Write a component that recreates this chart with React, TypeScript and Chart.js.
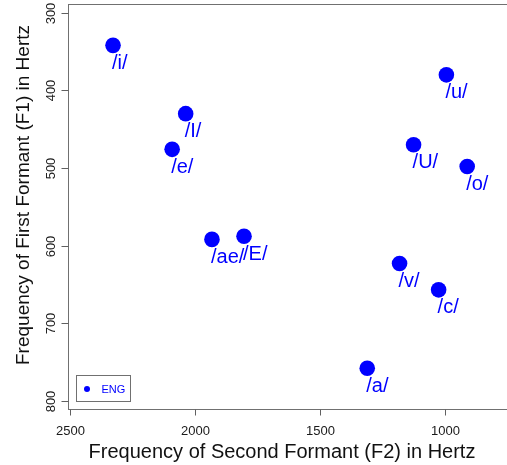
import React, { useEffect, useRef } from "react";
import { Chart, registerables } from "chart.js";

Chart.register(...registerables);

const vowelLabels = ["/i/", "/I/", "/e/", "/ae/", "/E/", "/u/", "/U/", "/o/", "/v/", "/c/", "/a/"];
const f2Values = [2327, 2037, 2091, 1932, 1804, 996, 1127, 913, 1183, 1027, 1312];
const f1Values = [342, 430, 476, 592, 588, 380, 470, 498, 623, 657, 758];
const xTickValues = [2500, 2000, 1500, 1000];
const yTickValues = [300, 400, 500, 600, 700, 800];
const legendLabel = "ENG";
const xTitle = "Frequency of Second Formant (F2) in Hertz";
const yTitle = "Frequency of First Formant (F1) in Hertz";

const FONT = '"Liberation Sans", Arial, Helvetica, sans-serif';
const BLUE = "#0000ff";

const customPlugin = {
  id: "rStyle",
  afterDraw(chart: any) {
    const ctx = chart.ctx as CanvasRenderingContext2D;
    const { left, right, top, bottom } = chart.chartArea;
    const xs = chart.scales.x;
    const ys = chart.scales.y;
    ctx.save();

    // point labels
    const meta = chart.getDatasetMeta(0);
    ctx.fillStyle = BLUE;
    ctx.font = `20px ${FONT}`;
    ctx.textAlign = "left";
    ctx.textBaseline = "alphabetic";
    meta.data.forEach((pt: any, i: number) => {
      ctx.fillText(vowelLabels[i], pt.x - 1, pt.y + 23.5);
    });

    // box
    ctx.strokeStyle = "#707070";
    ctx.lineWidth = 1;
    const L = Math.round(left) + 0.5;
    const T = Math.round(top) + 0.5;
    const B = Math.round(bottom) - 0.5;
    const R = Math.round(right) - 0.5;
    ctx.strokeRect(L, T, R - L, B - T);

    // x ticks
    ctx.strokeStyle = "#606060";
    ctx.fillStyle = "#1a1a1a";
    ctx.font = `13px ${FONT}`;
    ctx.textAlign = "center";
    xTickValues.forEach((v) => {
      const px = Math.round(xs.getPixelForValue(v)) + 0.5;
      ctx.beginPath();
      ctx.moveTo(px, B);
      ctx.lineTo(px, B + 6);
      ctx.stroke();
      ctx.fillText(String(v), px, 435);
    });

    // y ticks
    yTickValues.forEach((v) => {
      const py = Math.round(ys.getPixelForValue(v)) + 0.5;
      ctx.beginPath();
      ctx.moveTo(L - 7, py);
      ctx.lineTo(L, py);
      ctx.stroke();
      ctx.save();
      ctx.translate(55, py);
      ctx.rotate(-Math.PI / 2);
      ctx.textAlign = "center";
      ctx.fillText(String(v), 0, 0);
      ctx.restore();
    });

    // axis titles
    ctx.fillStyle = "#111";
    ctx.font = `20px ${FONT}`;
    ctx.textAlign = "center";
    ctx.fillText(xTitle, 282, 458);
    ctx.font = `19px ${FONT}`;
    ctx.save();
    ctx.translate(29, 195);
    ctx.rotate(-Math.PI / 2);
    ctx.fillText(yTitle, 0, 0);
    ctx.restore();

    // legend
    ctx.strokeStyle = "#707070";
    ctx.strokeRect(76.5, 375.5, 54, 26);
    ctx.fillStyle = BLUE;
    ctx.beginPath();
    ctx.arc(87, 389, 3, 0, Math.PI * 2);
    ctx.fill();
    ctx.font = `11px ${FONT}`;
    ctx.textAlign = "left";
    ctx.textBaseline = "middle";
    ctx.fillText(legendLabel, 101.5, 389.5);

    ctx.restore();
  },
};

export default function App() {
  const ref = useRef<HTMLCanvasElement>(null);
  useEffect(() => {
    if (!ref.current) return;
    const chart = new Chart(ref.current, {
      type: "scatter",
      data: {
        datasets: [
          {
            label: legendLabel,
            data: f2Values.map((x, i) => ({ x, y: f1Values[i] })),
            backgroundColor: BLUE,
            borderWidth: 0,
            pointRadius: 7.8,
            pointHoverRadius: 7.8,
          },
        ],
      },
      options: {
        animation: false,
        responsive: false,
        devicePixelRatio: 1,
        layout: { autoPadding: false, padding: { top: 4, left: 0, right: 0, bottom: 0 } },
        plugins: { legend: { display: false }, tooltip: { enabled: false } },
        scales: {
          x: {
            type: "linear",
            reverse: true,
            min: 750,
            max: 2508,
            grid: { display: false },
            border: { display: false },
            ticks: { display: false },
            afterFit(s: any) {
              s.height = 55.5;
            },
          },
          y: {
            type: "linear",
            reverse: true,
            min: 288.7,
            max: 811.2,
            grid: { display: false },
            border: { display: false },
            ticks: { display: false },
            afterFit(s: any) {
              s.width = 67.7;
            },
          },
        },
      },
      plugins: [customPlugin],
    } as any);
    return () => chart.destroy();
  }, []);
  return (
    <div
      style={{
        position: "absolute",
        left: 0,
        top: 0,
        width: 507,
        height: 465,
        overflow: "hidden",
        background: "#fff",
      }}
    >
      <canvas ref={ref} width={508} height={465} style={{ display: "block" }} />
    </div>
  );
}
